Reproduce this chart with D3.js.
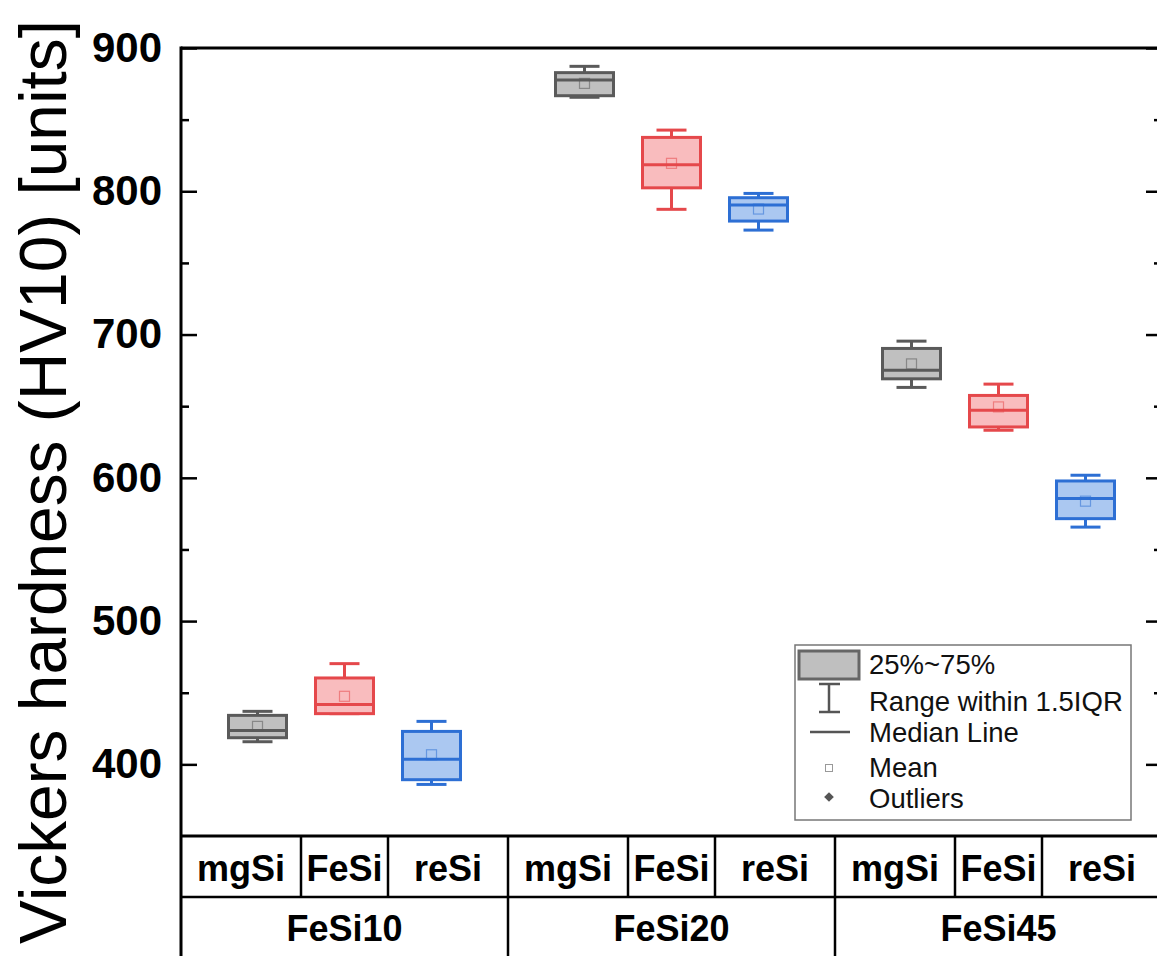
<!DOCTYPE html>
<html>
<head>
<meta charset="utf-8">
<script src="https://cdn.jsdelivr.net/npm/d3@7"></script>
<style>
  body { margin: 0; background: #fff; }
  svg { display: block; font-family: "Liberation Sans", Arial, sans-serif; }
</style>
</head>
<body>
<div id="chart"></div>
<script>
// groups and samples
const groups = ["FeSi10", "FeSi20", "FeSi45"];
const subs = ["mgSi", "FeSi", "reSi"];

// box stats, order: FeSi10 (mgSi, FeSi, reSi), FeSi20 (...), FeSi45 (...)
const whiskerLow  = [415.8, 435.4, 386.0, 865.6, 787.4, 772.9, 663.1, 633.2, 565.6];
const q1Values    = [418.6, 435.4, 389.3, 866.7, 802.4, 779.2, 669.1, 635.5, 571.5];
const medians     = [423.7, 441.7, 403.6, 877.7, 818.5, 790.4, 675.1, 647.2, 585.5];
const q3Values    = [434.2, 460.3, 423.0, 882.8, 837.6, 795.5, 690.3, 657.5, 597.8];
const whiskerHigh = [437.0, 470.3, 430.0, 887.2, 842.7, 798.5, 695.4, 665.4, 601.8];
const means       = [426.5, 447.5, 406.7, 875.3, 819.5, 787.6, 679.5, 649.5, 583.7];

const majorTicks = [400, 500, 600, 700, 800, 900];
const minorTicks = [450, 550, 650, 750, 850];

const legendLabels = ["25%~75%", "Range within 1.5IQR", "Median Line", "Mean", "Outliers"];

const strokeCol = { mgSi: "#5a5a5a", FeSi: "#e5484b", reSi: "#2d6fd4" };
const fillCol = { mgSi: "#c0c0c0", FeSi: "#f9bcbe", reSi: "#abc8f1" };

const W = 1157, H = 956;
const plotLeft = 181, plotRight = 1162, plotTop = 48, plotBottom = 836;

const svg = d3.select("#chart").append("svg")
    .attr("width", W).attr("height", H);

const y = d3.scaleLinear().domain([350, 900]).range([plotBottom, plotTop]);
const xg = d3.scaleBand().domain(groups).range([plotLeft, plotRight]);
const xs = d3.scalePoint().domain(subs).range([-87, 87]);

// build rows
const rows = [];
groups.forEach((g, gi) => {
    subs.forEach((s, si) => {
        const i = gi * 3 + si;
        rows.push({
            group: g, sub: s,
            lo: whiskerLow[i], q1: q1Values[i], med: medians[i],
            q3: q3Values[i], hi: whiskerHigh[i], mean: means[i]
        });
    });
});

// axes
const axisL = svg.append("g")
    .attr("transform", "translate(" + plotLeft + ",0)")
    .call(d3.axisLeft(y).tickValues(majorTicks).tickSizeInner(-16).tickSizeOuter(0).tickPadding(19));
axisL.selectAll("text")
    .attr("font-size", 42).attr("font-weight", "bold")
    .attr("font-family", "'Liberation Sans', Arial, sans-serif").attr("fill", "#000");
svg.append("g")
    .attr("transform", "translate(" + plotLeft + ",0)")
    .call(d3.axisLeft(y).tickValues(minorTicks).tickSize(-8).tickFormat(""));

svg.append("g")
    .attr("transform", "translate(" + plotRight + ",0)")
    .call(d3.axisRight(y).tickValues(majorTicks).tickSizeInner(-16).tickSizeOuter(0).tickFormat(""));
svg.append("g")
    .attr("transform", "translate(" + plotRight + ",0)")
    .call(d3.axisRight(y).tickValues(minorTicks).tickSize(-8).tickFormat(""));

svg.selectAll(".tick line").attr("stroke", "#000").attr("stroke-width", 2.5);
svg.selectAll(".domain").remove();

// frame lines
const frame = svg.append("g").attr("stroke", "#000").attr("stroke-width", 3);
frame.append("line").attr("x1", plotLeft).attr("x2", plotLeft).attr("y1", plotTop - 1.5).attr("y2", H);
frame.append("line").attr("x1", plotLeft).attr("x2", plotRight).attr("y1", plotTop).attr("y2", plotTop);
frame.append("line").attr("x1", plotLeft).attr("x2", plotRight).attr("y1", plotBottom).attr("y2", plotBottom);
frame.append("line").attr("x1", plotLeft).attr("x2", plotRight).attr("y1", 897).attr("y2", 897)
    .attr("stroke-width", 2.5);

// table dividers and labels
groups.forEach((g, gi) => {
    const x0 = xg(g), x1 = x0 + xg.bandwidth();
    if (gi > 0) {
        frame.append("line").attr("x1", x0).attr("x2", x0).attr("y1", plotBottom).attr("y2", H)
            .attr("stroke-width", 2.5);
    }
    const c = x0 + xg.bandwidth() / 2;
    const edges = [x0, c - xs.step() / 2, c + xs.step() / 2, x1];
    [edges[1], edges[2]].forEach(xx => {
        frame.append("line").attr("x1", xx).attr("x2", xx).attr("y1", plotBottom).attr("y2", 897)
            .attr("stroke-width", 2.5);
    });
    svg.append("text")
        .attr("x", c).attr("y", 941)
        .attr("text-anchor", "middle")
        .attr("font-size", 36).attr("font-weight", "bold")
        .text(g);
    subs.forEach((s, si) => {
        svg.append("text")
            .attr("x", (edges[si] + edges[si + 1]) / 2).attr("y", 881)
            .attr("text-anchor", "middle")
            .attr("font-size", 36).attr("font-weight", "bold")
            .text(s);
    });
});

// boxes
const boxW = 58, capW = 30;
const box = svg.append("g").selectAll("g").data(rows).enter().append("g")
    .attr("transform", d => "translate(" + (xg(d.group) + xg.bandwidth() / 2 + xs(d.sub)) + ",0)");

box.append("line")
    .attr("x1", 0).attr("x2", 0)
    .attr("y1", d => y(d.hi)).attr("y2", d => y(d.q3))
    .attr("stroke", d => strokeCol[d.sub]).attr("stroke-width", 3);
box.append("line")
    .attr("x1", 0).attr("x2", 0)
    .attr("y1", d => y(d.q1)).attr("y2", d => y(d.lo))
    .attr("stroke", d => strokeCol[d.sub]).attr("stroke-width", 3);
box.append("line")
    .attr("x1", -capW / 2).attr("x2", capW / 2)
    .attr("y1", d => y(d.hi)).attr("y2", d => y(d.hi))
    .attr("stroke", d => strokeCol[d.sub]).attr("stroke-width", 3);
box.append("line")
    .attr("x1", -capW / 2).attr("x2", capW / 2)
    .attr("y1", d => y(d.lo)).attr("y2", d => y(d.lo))
    .attr("stroke", d => strokeCol[d.sub]).attr("stroke-width", 3);
box.append("rect")
    .attr("x", -boxW / 2).attr("width", boxW)
    .attr("y", d => y(d.q3)).attr("height", d => y(d.q1) - y(d.q3))
    .attr("fill", d => fillCol[d.sub])
    .attr("stroke", d => strokeCol[d.sub]).attr("stroke-width", 3);
box.append("line")
    .attr("x1", -boxW / 2).attr("x2", boxW / 2)
    .attr("y1", d => y(d.med)).attr("y2", d => y(d.med))
    .attr("stroke", d => strokeCol[d.sub]).attr("stroke-width", 3);
box.append("rect")
    .attr("x", -5).attr("width", 10)
    .attr("y", d => y(d.mean) - 5).attr("height", 10)
    .attr("fill", "none")
    .attr("stroke", d => strokeCol[d.sub]).attr("stroke-opacity", 0.55).attr("stroke-width", 1.2);

// y title
svg.append("text")
    .attr("transform", "translate(66,482) rotate(-90)")
    .attr("text-anchor", "middle")
    .attr("font-size", 67)
    .attr("textLength", 924).attr("lengthAdjust", "spacingAndGlyphs")
    .text("Vickers hardness (HV10) [units]");

// legend
const lg = svg.append("g");
lg.append("rect").attr("x", 795).attr("y", 645).attr("width", 336).attr("height", 175)
    .attr("fill", "#fff").attr("stroke", "#777").attr("stroke-width", 1.5);
lg.append("rect").attr("x", 799).attr("y", 651).attr("width", 60).attr("height", 28)
    .attr("fill", "#bfbfbf").attr("stroke", "#666").attr("stroke-width", 3);
const ic = lg.append("g").attr("stroke", "#555").attr("stroke-width", 2.5);
ic.append("line").attr("x1", 829).attr("x2", 829).attr("y1", 684).attr("y2", 712);
ic.append("line").attr("x1", 819).attr("x2", 840).attr("y1", 684).attr("y2", 684);
ic.append("line").attr("x1", 819).attr("x2", 840).attr("y1", 712).attr("y2", 712);
ic.append("line").attr("x1", 810).attr("x2", 850).attr("y1", 732).attr("y2", 732);
lg.append("rect").attr("x", 825.5).attr("y", 764.5).attr("width", 7).attr("height", 7)
    .attr("fill", "none").attr("stroke", "#999").attr("stroke-width", 1);
lg.append("path").attr("d", d3.symbol(d3.symbolDiamond2, 60)())
    .attr("transform", "translate(829,797)").attr("fill", "#555");
const legendY = [674, 711, 742, 777, 808];
lg.selectAll("text.lab").data(legendLabels).enter().append("text")
    .attr("class", "lab")
    .attr("x", 869).attr("y", (d, i) => legendY[i])
    .attr("font-size", 27.5).attr("fill", "#111")
    .text(d => d);
</script>
</body>
</html>
